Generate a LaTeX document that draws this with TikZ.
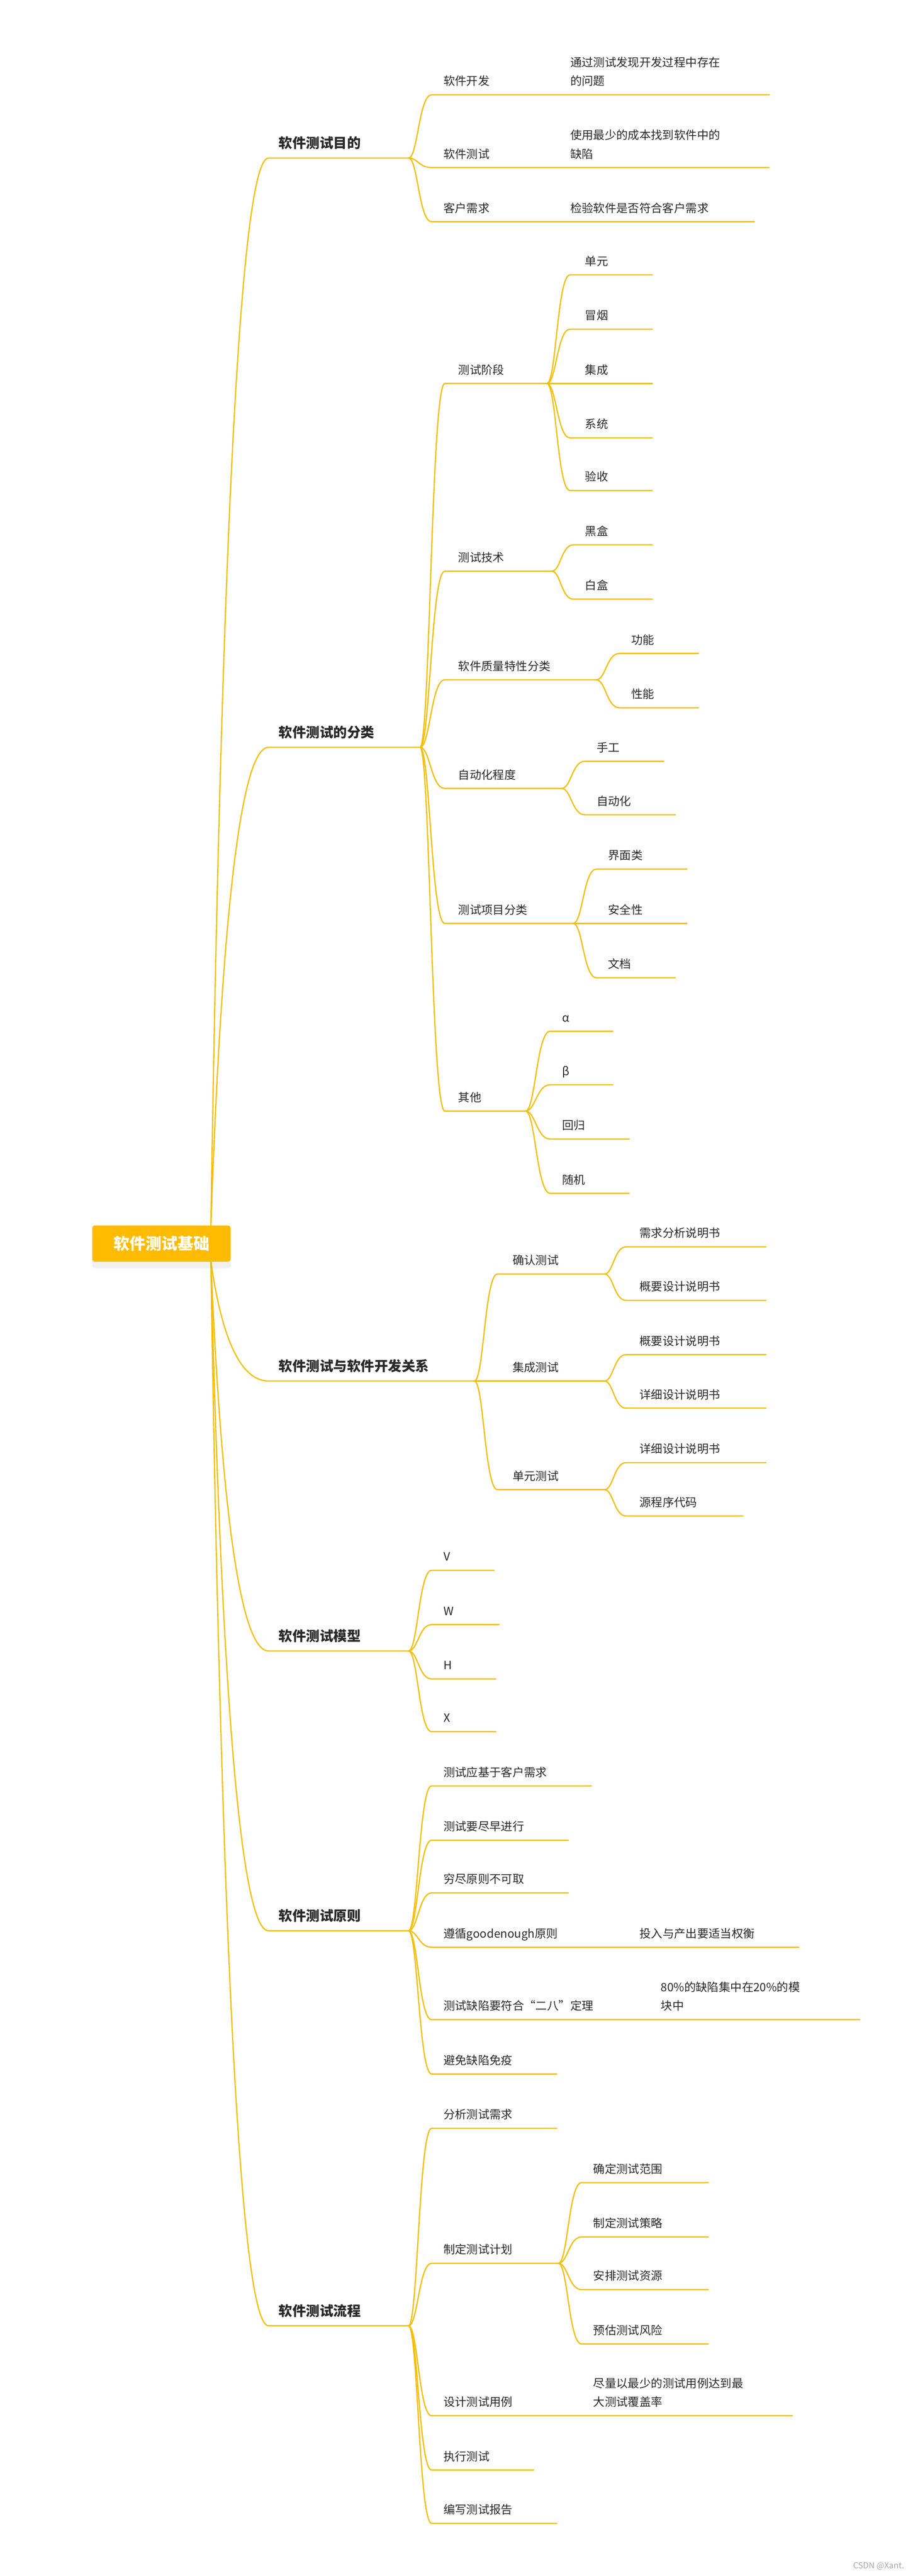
\documentclass[tikz,border=0pt]{standalone}
\usepackage{fontspec}
\setmainfont{Noto Sans CJK SC}
\usetikzlibrary{shadows}
\definecolor{br}{RGB}{245,190,10}
\definecolor{rootc}{RGB}{255,187,0}
\definecolor{tx}{RGB}{40,40,40}
\tikzset{
  brline/.style={draw=br,line width=0.75pt,line cap=round},
  lvone/.style={font=\fontsize{8.3}{10}\selectfont\bfseries,text=tx,inner sep=0pt,text depth=0pt,anchor=south west},
  lvtwo/.style={font=\fontsize{7}{11.3}\selectfont,text=tx,inner sep=0pt,text depth=0pt,anchor=south west,align=left},
}
% #1 px #2 py #3 cx #4 cy #5 ex
\newcommand\brc[5]{\draw[brline] (#1,#2) .. controls ({#1+0.4*(#3-#1)},#2) and ({#1+0.45*(#3-#1)},#4) .. (#3,#4) -- (#5,#4);}
% #1 name #2 px #3 py #4 cx #5 cy #6 ex #7 textx #8 text
\newcommand\kid[8]{\brc{#2}{#3}{#4}{#5}{#6}\node[lvtwo] (#1) at (#7,{#5-5.5}) {#8};}
% root branch: #1 name #2 ry #3 cy #4 ex #5 text
\newcommand\rootb[5]{\draw[brline] (128,#2) .. controls (133,{(#2+#3)/2}) and (143,#3) .. (163,#3) -- (#4,#3);
  \node[lvone] (#1) at (169,{#3-5.8}) {#5};}
\newcommand\side[4]{\node[lvtwo] (#1) at (#2,{#3-5.5}) {#4};}
\begin{document}
\begin{tikzpicture}[x=1pt,y=-1pt]
\useasboundingbox (0,0) rectangle (551,1565);
% root branches
\rootb{a}{745}{96}{248}{软件测试目的}
\rootb{b}{745}{454}{255}{软件测试的分类}
\rootb{c}{766}{839}{288}{软件测试与软件开发关系}
\rootb{d}{766}{1003}{248}{软件测试模型}
\rootb{e}{766}{1173}{248}{软件测试原则}
\rootb{f}{766}{1413}{248}{软件测试流程}
\node[fill=rootc,rounded corners=1.5pt,minimum width=84pt,minimum height=22pt,inner sep=0pt,
  drop shadow={opacity=0.12,shadow xshift=0pt,shadow yshift=-4pt},
  text=white,font=\fontsize{9.7}{11}\selectfont\bfseries] (root) at (98,755.5) {软件测试基础};
% 目的
\kid{a1}{248}{96}{262}{57.6}{467}{269}{软件开发}
\side{a1s}{346}{57.6}{通过测试发现开发过程中存在\\的问题}
\kid{a2}{248}{96}{262}{101.8}{467}{269}{软件测试}
\side{a2s}{346}{101.8}{使用最少的成本找到软件中的\\缺陷}
\kid{a3}{248}{96}{262}{134.7}{458}{269}{客户需求}
\side{a3s}{346}{134.7}{检验软件是否符合客户需求}
% 分类
\kid{b1}{255}{454}{270}{233}{332}{278}{测试阶段}
\kid{b11}{332}{233}{346}{167}{396}{355}{单元}
\kid{b12}{332}{233}{346}{200}{396}{355}{冒烟}
\kid{b13}{332}{233}{346}{233}{396}{355}{集成}
\kid{b14}{332}{233}{346}{266}{396}{355}{系统}
\kid{b15}{332}{233}{346}{298}{396}{355}{验收}
\kid{b2}{255}{454}{270}{347}{335}{278}{测试技术}
\kid{b21}{335}{347}{348}{331}{396}{355}{黑盒}
\kid{b22}{335}{347}{348}{364}{396}{355}{白盒}
\kid{b3}{255}{454}{270}{413}{362}{278}{软件质量特性分类}
\kid{b31}{362}{413}{376}{397}{424}{383}{功能}
\kid{b32}{362}{413}{376}{430}{424}{383}{性能}
\kid{b4}{255}{454}{270}{479}{341}{278}{自动化程度}
\kid{b41}{341}{479}{355}{462.5}{403}{362}{手工}
\kid{b42}{341}{479}{355}{495}{410}{362}{自动化}
\kid{b5}{255}{454}{270}{561}{348}{278}{测试项目分类}
\kid{b51}{348}{561}{362}{528}{417}{369}{界面类}
\kid{b52}{348}{561}{362}{561}{417}{369}{安全性}
\kid{b53}{348}{561}{362}{594}{410}{369}{文档}
\kid{b6}{255}{454}{270}{675}{319}{278}{其他}
\kid{b61}{319}{675}{334}{626.5}{372}{341}{α}
\kid{b62}{319}{675}{334}{659}{372}{341}{β}
\kid{b63}{319}{675}{334}{692}{382}{341}{回归}
\kid{b64}{319}{675}{334}{725}{382}{341}{随机}
% 关系
\kid{c1}{288}{839}{302}{774}{367}{311}{确认测试}
\kid{c11}{367}{774}{380}{757.5}{465}{388}{需求分析说明书}
\kid{c12}{367}{774}{380}{790}{465}{388}{概要设计说明书}
\kid{c2}{288}{839}{302}{839}{367}{311}{集成测试}
\kid{c21}{367}{839}{380}{823}{465}{388}{概要设计说明书}
\kid{c22}{367}{839}{380}{855.5}{465}{388}{详细设计说明书}
\kid{c3}{288}{839}{302}{905}{367}{311}{单元测试}
\kid{c31}{367}{905}{380}{888.6}{465}{388}{详细设计说明书}
\kid{c32}{367}{905}{380}{921}{451}{388}{源程序代码}
% 模型
\kid{d1}{248}{1003}{262}{954}{300}{269}{V}
\kid{d2}{248}{1003}{262}{987}{303}{269}{W}
\kid{d3}{248}{1003}{262}{1020}{301}{269}{H}
\kid{d4}{248}{1003}{262}{1052}{301}{269}{X}
% 原则
\kid{e1}{248}{1173}{262}{1085}{359}{269}{测试应基于客户需求}
\kid{e2}{248}{1173}{262}{1118}{345}{269}{测试要尽早进行}
\kid{e3}{248}{1173}{262}{1150}{345}{269}{穷尽原则不可取}
\kid{e4}{248}{1173}{262}{1183}{485}{269}{遵循goodenough原则}
\side{e4s}{388}{1183}{投入与产出要适当权衡}
\kid{e5}{248}{1173}{262}{1227}{522}{269}{测试缺陷要符合“二八”定理}
\side{e5s}{401}{1227}{80\%的缺陷集中在20\%的模\\块中}
\kid{e6}{248}{1173}{262}{1260}{338}{269}{避免缺陷免疫}
% 流程
\kid{f1}{248}{1413}{262}{1293}{338}{269}{分析测试需求}
\kid{f2}{248}{1413}{262}{1375}{339}{269}{制定测试计划}
\kid{f21}{339}{1375}{353}{1326}{430}{360}{确定测试范围}
\kid{f22}{339}{1375}{353}{1359}{430}{360}{制定测试策略}
\kid{f23}{339}{1375}{353}{1391}{430}{360}{安排测试资源}
\kid{f24}{339}{1375}{353}{1424}{430}{360}{预估测试风险}
\kid{f3}{248}{1413}{262}{1467.6}{481}{269}{设计测试用例}
\side{f3s}{360}{1467.6}{尽量以最少的测试用例达到最\\大测试覆盖率}
\kid{f4}{248}{1413}{262}{1500.6}{324}{269}{执行测试}
\kid{f5}{248}{1413}{262}{1533}{338}{269}{编写测试报告}
\node[anchor=east,inner sep=0pt,text=gray!70,font=\fontsize{5}{6}\selectfont] (wm) at (549,1559) {CSDN @Xant.};
\end{tikzpicture}
\end{document}
